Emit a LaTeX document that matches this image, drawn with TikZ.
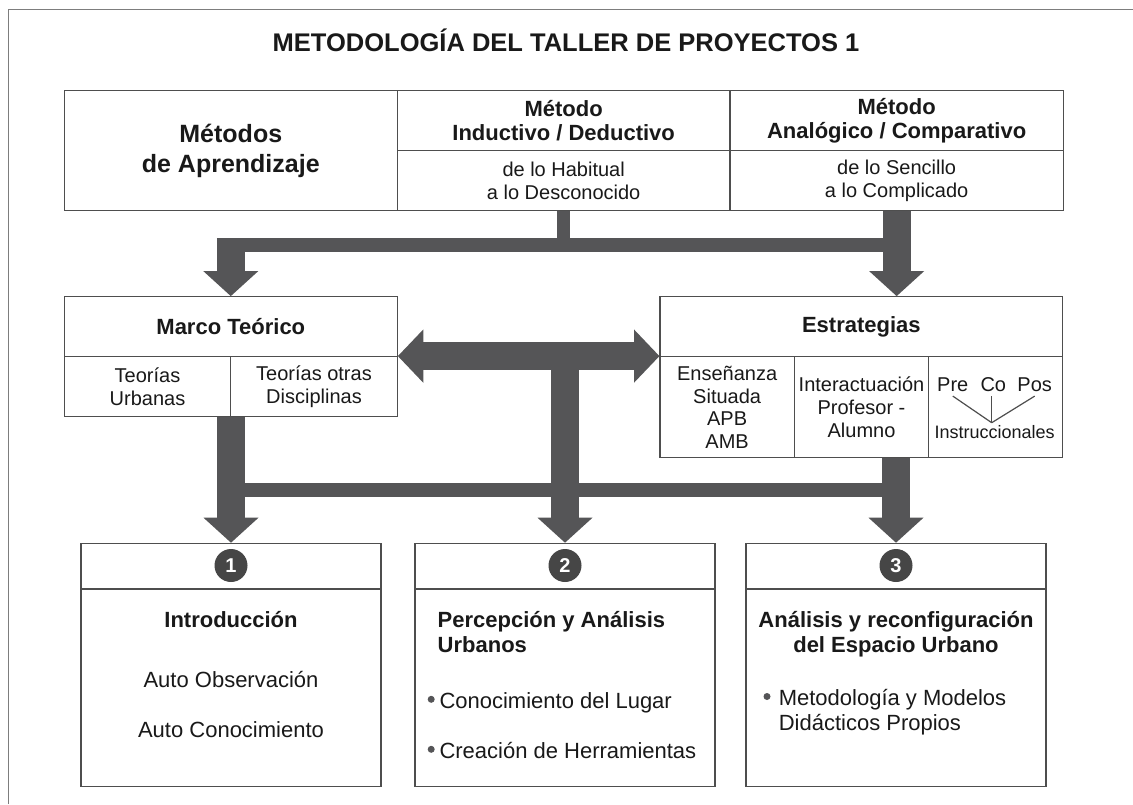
\documentclass[tikz,border=0pt]{standalone}
\usepackage{fontspec}
\setmainfont{Liberation Sans}
\usetikzlibrary{arrows.meta,calc}
\definecolor{arrowcol}{RGB}{85,85,87}
\definecolor{linecol}{RGB}{78,78,78}
\definecolor{framecol}{RGB}{125,125,125}
\definecolor{txtcol}{RGB}{25,25,25}
\definecolor{circcol}{RGB}{70,70,70}
\newcommand{\myfs}[2]{\fontsize{#1}{#2}\selectfont}
\tikzset{
  cellbox/.style={draw=linecol, line width=1.2pt, inner sep=0pt, align=center, text=txtcol},
  txt/.style={inner sep=0pt, text=txtcol},
  conn/.style={draw=arrowcol, line cap=butt},
  bigtip/.tip={Triangle[length=25pt,width=55pt,line width=0pt]},
  dbltip/.tip={Triangle[length=25.4pt,width=53.3pt,line width=0pt]},
  numcirc/.style={circle, fill=circcol, minimum width=33pt, minimum height=33pt, inner sep=0pt, text=white, font={\myfs{20}{24}\bfseries}},
  bulletdot/.style={circle, fill=arrowcol, minimum size=7pt, inner sep=0pt},
}
\begin{document}
\begin{tikzpicture}[x=1pt,y=-1pt]
\useasboundingbox (0,0) rectangle (1133,804);
\fill[white] (0,0) rectangle (1133,804);
\draw[framecol, line width=1.5pt] (8.7,804) -- (8.7,9.5) -- (1133,9.5);

% title
\node[txt, anchor=base, font={\myfs{25.5}{30}\bfseries}] (title) at (566,51.7) {METODOLOGÍA DEL TALLER DE PROYECTOS 1};

% top table
\node[cellbox, minimum width=333pt, minimum height=120pt, font={\myfs{25}{30}\bfseries}] (metodos) at (230.8,150.7) {Métodos\\de Aprendizaje};
\node[cellbox, minimum width=332.7pt, minimum height=60pt, font={\myfs{22}{24.7}\bfseries}] (indh) at (563.65,120.7) {Método\\Inductivo / Deductivo};
\node[cellbox, minimum width=332.7pt, minimum height=60pt, font={\myfs{20}{22.7}}] (indb) at (563.65,180.7) {de lo Habitual\\a lo Desconocido};
\node[cellbox, minimum width=333.3pt, minimum height=60pt, font={\myfs{22}{24.7}\bfseries}] (anah) at (896.65,120.7) {Método\\Analógico / Comparativo};
\node[cellbox, minimum width=333.3pt, minimum height=60pt, font={\myfs{20}{22.7}}] (anab) at (896.65,180.7) {de lo Sencillo\\a lo Complicado};

% marco teorico
\node[cellbox, minimum width=333pt, minimum height=60pt, font={\myfs{22}{26}\bfseries}] (marco) at (230.8,326.7) {Marco Teórico};
\node[cellbox, minimum width=166.4pt, minimum height=60pt, font={\myfs{20}{23.3}}] (teo1) at (147.5,386.7) {Teorías\\Urbanas};
\node[cellbox, minimum width=166.6pt, minimum height=60pt, font={\myfs{20}{23.3}}] (teo2) at (314,386.7) {Teorías otras\\Disciplinas};

% estrategias
\node[cellbox, minimum width=402.7pt, minimum height=60pt, font={\myfs{22}{26}\bfseries}] (estr) at (861.35,326.7) {Estrategias};
\node[cellbox, minimum width=134.3pt, minimum height=101pt, font={\myfs{20}{22.7}}] (e1) at (727.15,407.2) {Enseñanza\\Situada\\APB\\AMB};
\node[cellbox, minimum width=134.4pt, minimum height=101pt, font={\myfs{20}{22.7}}] (e2) at (861.5,407.2) {Interactuación\\Profesor -\\Alumno};
\node[cellbox, minimum width=134pt, minimum height=101pt] (e3) at (995.7,407.2) {};
\node[txt, anchor=base, font={\myfs{20}{24}}] (pre) at (952.8,391.7) {Pre};
\node[txt, anchor=base, font={\myfs{20}{24}}] (co) at (993.3,391.7) {Co};
\node[txt, anchor=base, font={\myfs{20}{24}}] (pos) at (1034.7,391.7) {Pos};
\node[txt, anchor=base, font={\myfs{18}{22}}] (instr) at (994.7,438.3) {Instruccionales};
\coordinate (joint) at (991.7,422.7);
\draw[linecol, line width=1.2pt] ([yshift=-4pt]pre.south) -- (joint);
\draw[linecol, line width=1.2pt] ([yshift=-4pt]co.south -| joint) -- (joint);
\draw[linecol, line width=1.2pt] ([yshift=-4pt]pos.south) -- (joint);

% bottom boxes
\foreach \n/\cx in {1/231,2/565,3/896}{
  \node[cellbox, minimum width=300pt, minimum height=45.7pt] (b\n h) at (\cx,566.15) {};
  \node[cellbox, minimum width=300pt, minimum height=197.7pt] (b\n b) at (\cx,687.85) {};
  \node[numcirc] (c\n) at (\cx,565.5) {\n};
}

% box 1 texts
\node[txt, anchor=base, font={\myfs{22}{26}\bfseries}] (intro) at (231,627.3) {Introducción};
\node[txt, anchor=base, font={\myfs{22}{26}}] (ao) at (231,687.7) {Auto Observación};
\node[txt, anchor=base, font={\myfs{22}{26}}] (ac) at (231,737.7) {Auto Conocimiento};

% box 2 texts
\node[txt, anchor=base west, font={\myfs{22}{26}\bfseries}] (perc) at (437.5,627.3) {Percepción y Análisis};
\node[txt, anchor=base west, font={\myfs{22}{26}\bfseries}] (urb) at (437.5,652.3) {Urbanos};
\node[bulletdot] (bd1) at (431.2,699.3) {};
\node[txt, anchor=base west, font={\myfs{22}{26}}] (cono) at (439.3,708.3) {Conocimiento del Lugar};
\node[bulletdot] (bd2) at (431.2,749.3) {};
\node[txt, anchor=base west, font={\myfs{22}{26}}] (crea) at (439.3,758.3) {Creación de Herramientas};

% box 3 texts
\node[txt, anchor=base, font={\myfs{22}{26}\bfseries}] (anal) at (896,627.3) {Análisis y reconfiguración};
\node[txt, anchor=base, font={\myfs{22}{26}\bfseries}] (espa) at (896,652.7) {del Espacio Urbano};
\node[bulletdot] (bd3) at (767,696.5) {};
\node[txt, anchor=base west, font={\myfs{22}{26}}] (meto) at (778.6,705) {Metodología y Modelos};
\node[txt, anchor=base west, font={\myfs{22}{26}}] (dida) at (778.6,730) {Didácticos Propios};

% ---- connectors ----
\coordinate (tb) at (0,245);
\coordinate (tbtop) at (0,238.3);
\coordinate (bb) at (0,490);
% top: middle stem and bar
\draw[conn, line width=13pt] (indb.south) -- (indb.south |- tb);
\draw[conn, line width=13.4pt] ($(marco.north |- tb)+(-14,0)$) -- (anab.south |- tb);
\draw[conn, line width=28pt, -{bigtip}] (marco.north |- tbtop) -- (marco.north);
\draw[conn, line width=28pt, -{bigtip}] (anab.south) -- (anab.south |- estr.north);
% middle double arrow
\draw[conn, line width=27.7pt, {dbltip}-{dbltip}] (teo2.north east) -- (e1.north west);
% bottom
\draw[conn, line width=13.4pt] (b1h.north |- bb) -- (b3h.north |- bb);
\draw[conn, line width=28pt, -{bigtip}] (b1h.north |- teo1.south) -- (b1h.north);
\draw[conn, line width=27.6pt, -{bigtip}] (b2h.north |- teo2.north east) -- (b2h.north);
\draw[conn, line width=28pt, -{bigtip}] (b3h.north |- e2.south) -- (b3h.north);
\end{tikzpicture}
\end{document}
